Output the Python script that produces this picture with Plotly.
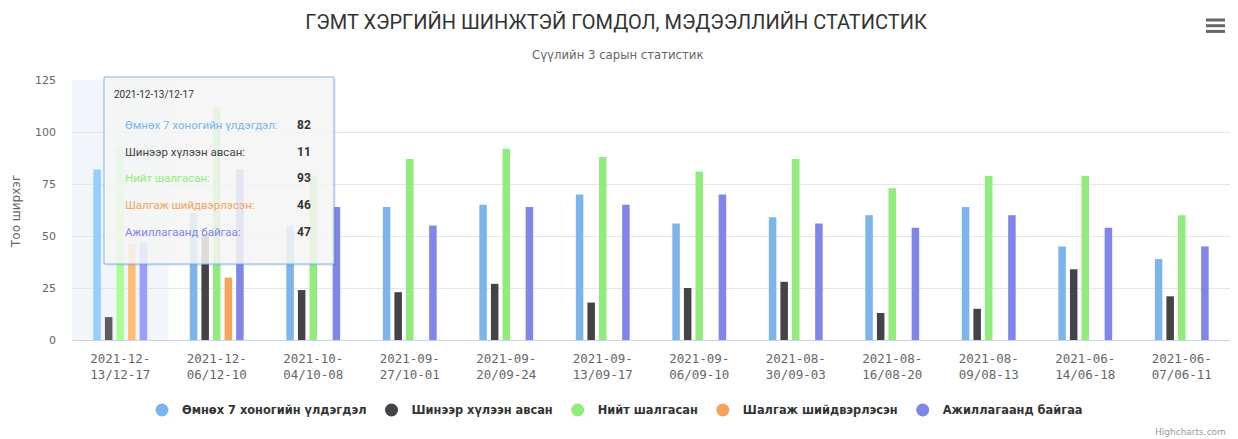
import plotly.graph_objects as go

# ---- data ----
categories = ["2021-12-13/12-17", "2021-12-06/12-10", "2021-10-04/10-08", "2021-09-27/10-01",
              "2021-09-20/09-24", "2021-09-13/09-17", "2021-09-06/09-10", "2021-08-30/09-03",
              "2021-08-16/08-20", "2021-08-09/08-13", "2021-06-14/06-18", "2021-06-07/06-11"]
tick_labels = ["2021-12-<br>13/12-17", "2021-12-<br>06/12-10", "2021-10-<br>04/10-08", "2021-09-<br>27/10-01",
               "2021-09-<br>20/09-24", "2021-09-<br>13/09-17", "2021-09-<br>06/09-10", "2021-08-<br>30/09-03",
               "2021-08-<br>16/08-20", "2021-08-<br>09/08-13", "2021-06-<br>14/06-18", "2021-06-<br>07/06-11"]
series_names = ["Өмнөх 7 хоногийн үлдэгдэл", "Шинээр хүлээн авсан", "Нийт шалгасан",
                "Шалгаж шийдвэрлэсэн", "Ажиллагаанд байгаа"]
prev_balance = [82, 61, 55, 64, 65, 70, 56, 59, 60, 64, 45, 39]
new_received = [11, 51, 24, 23, 27, 18, 25, 28, 13, 15, 34, 21]
total_checked = [93, 112, 79, 87, 92, 88, 81, 87, 73, 79, 79, 60]
resolved = [46, 30, 0, 0, 0, 0, 0, 0, 0, 0, 0, 0]
in_progress = [47, 82, 64, 55, 64, 65, 70, 56, 54, 60, 54, 45]
values = [prev_balance, new_received, total_checked, resolved, in_progress]
hovered_index = 0

colors = ["#7cb5ec", "#434348", "#90ed7d", "#f7a35c", "#8085e9"]
hover_colors = ["#95ceff", "#5c5c61", "#a9ff96", "#ffbc75", "#999eff"]

# page has an 8px body margin: figure is drawn at (8, 8)
OFF = 8
W, H = 1238 - OFF, 439 - OFF
PL, PR, PT, PB = 72, 1230, 80, 340          # plot area in page pixels
L, R, T, B = PL - OFF, (W + OFF) - PR, PT - OFF, (H + OFF) - PB
PW, PH = PR - PL, PB - PT


def px(x):
    return (x - PL) / PW


def py(y):
    return (PB - y) / PH


FONT = "DejaVu Sans"
fig = go.Figure()

for i, (name, vals) in enumerate(zip(series_names, values)):
    cols = [hover_colors[i] if j == hovered_index else colors[i] for j in range(len(vals))]
    fig.add_trace(go.Bar(
        x=categories, y=vals, name=name, marker=dict(color=cols, line=dict(width=0)),
        showlegend=False, hoverinfo="skip"))
    fig.add_trace(go.Scatter(
        x=[None], y=[None], mode="markers", name=name,
        marker=dict(symbol="circle", size=13, color=colors[i]), showlegend=True))

shapes = []
# hover band
shapes.append(dict(type="rect", xref="x", yref="paper", x0=-0.5, x1=0.5, y0=0, y1=1,
                   fillcolor="rgba(204,214,235,0.25)", line=dict(width=0), layer="below"))
# tooltip box
tx0, tx1, ty0, ty1 = 104, 334, 77, 264
shapes.append(dict(type="rect", xref="paper", yref="paper", x0=px(tx0 + 2), x1=px(tx1 + 2),
                   y0=py(ty1 + 2), y1=py(ty0 + 2), fillcolor="rgba(0,0,0,0.06)",
                   line=dict(width=0), layer="above"))
shapes.append(dict(type="rect", xref="paper", yref="paper", x0=px(tx0), x1=px(tx1),
                   y0=py(ty1), y1=py(ty0), fillcolor="rgba(247,247,247,0.85)",
                   line=dict(color="#7cb5ec", width=1), layer="above"))
# hamburger menu
for yy in (20, 25.7, 31.4):
    shapes.append(dict(type="line", xref="paper", yref="paper", x0=px(1206), x1=px(1225),
                       y0=py(yy), y1=py(yy), line=dict(color="#666666", width=3)))

annotations = []
annotations.append(dict(xref="paper", yref="paper", x=px(112), y=py(94), xanchor="left",
                        yanchor="middle", showarrow=False, text=categories[hovered_index],
                        font=dict(family="Roboto", size=10, color="#333333")))
row_y = [125, 151.7, 178.3, 205, 231.7]
for i, name in enumerate(series_names):
    annotations.append(dict(xref="paper", yref="paper", x=px(123), y=py(row_y[i]), xanchor="left",
                            yanchor="middle", showarrow=False, text=name + ":",
                            font=dict(family="Roboto", size=11.5, color=colors[i])))
    annotations.append(dict(xref="paper", yref="paper", x=px(313), y=py(row_y[i]), xanchor="right",
                            yanchor="middle", showarrow=False,
                            text="<b>%d</b>" % values[i][hovered_index],
                            font=dict(family="Roboto", size=12, color="#333333")))
annotations.append(dict(xref="paper", yref="paper", x=px(617), y=py(55), xanchor="center",
                        yanchor="middle", showarrow=False, text="Сүүлийн 3 сарын статистик",
                        font=dict(family=FONT, size=11.7, color="#666666")))
annotations.append(dict(xref="paper", yref="paper", x=px(16), y=py(212), xanchor="center",
                        yanchor="middle", showarrow=False, text="Тоо ширхэг", textangle=-90,
                        font=dict(family=FONT, size=12, color="#666666")))
annotations.append(dict(xref="paper", yref="paper", x=px(1228), y=py(432), xanchor="right",
                        yanchor="middle", showarrow=False, text="Highcharts.com",
                        font=dict(family=FONT, size=9, color="#999999")))

fig.update_layout(
    width=W, height=H, margin=dict(l=L, r=R, t=T, b=B, autoexpand=False),
    paper_bgcolor="white", plot_bgcolor="white",
    title=dict(text="ГЭМТ ХЭРГИЙН ШИНЖТЭЙ ГОМДОЛ, МЭДЭЭЛЛИЙН СТАТИСТИК", x=(616 - OFF) / W,
               xref="container", xanchor="center", y=1 - (22 - OFF) / H, yanchor="middle",
               font=dict(family="Roboto", size=20, color="#333333")),
    barmode="group", bargap=0.4, bargroupgap=0.35,
    font=dict(family=FONT, color="#666666"),
    xaxis=dict(type="category", tickmode="array", tickvals=categories, ticktext=tick_labels,
               tickfont=dict(family="DejaVu Sans Mono", size=12.5, color="#666666"), showgrid=False,
               showline=True, linecolor="#ccd6eb", linewidth=1, ticks="", fixedrange=True,
               ticklabelstandoff=7),
    yaxis=dict(range=[0, 125], tickvals=[0, 25, 50, 75, 100, 125], showgrid=True,
               gridcolor="#e6e6e6", zeroline=False, showline=False,
               tickfont=dict(family=FONT, size=11, color="#666666"), ticklabelstandoff=15),
    legend=dict(orientation="h", xref="container", x=(142 - OFF) / W, xanchor="left",
                y=py(410), yanchor="middle",
                font=dict(family=FONT, size=11.4, color="#333333", weight="bold"),
                itemclick=False),
    shapes=shapes, annotations=annotations, hovermode=False,
)

fig.write_html("out.html", config={"displayModeBar": False})
